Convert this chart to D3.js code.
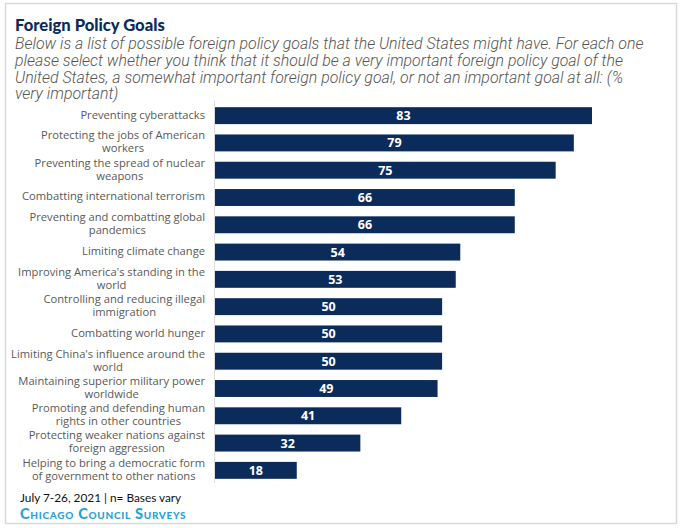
<!DOCTYPE html>
<html><head><meta charset="utf-8">
<script src="https://cdn.jsdelivr.net/npm/d3@7"></script>
<style>
html,body{margin:0;padding:0;background:#fff;}
svg{display:block;}
</style></head>
<body>
<script>
const categories = [
  "Preventing cyberattacks",
  "Protecting the jobs of American workers",
  "Preventing the spread of nuclear weapons",
  "Combatting international terrorism",
  "Preventing and combatting global pandemics",
  "Limiting climate change",
  "Improving America's standing in the world",
  "Controlling and reducing illegal immigration",
  "Combatting world hunger",
  "Limiting China's influence around the world",
  "Maintaining superior military power worldwide",
  "Promoting and defending human rights in other countries",
  "Protecting weaker nations against foreign aggression",
  "Helping to bring a democratic form of government to other nations"
];
const veryImportant = [83, 79, 75, 66, 66, 54, 53, 50, 50, 50, 49, 41, 32, 18];
const titleText = "Foreign Policy Goals";
const subtitleLines = [
  "Below is a list of possible foreign policy goals that the United States might have. For each one",
  "please select whether you think that it should be a very important foreign policy goal of the",
  "United States, a somewhat important foreign policy goal, or not an important goal at all: (%",
  "very important)"
];
const footnote = "July 7-26, 2021 | n= Bases vary";
const sourceText = "Chicago Council Surveys";

const W = 681, H = 528;
const svg = d3.select("body").append("svg").attr("width", W).attr("height", H);
const FONT = "'Open Sans', 'Noto Sans', sans-serif";
const NAVY = "#0b2b5b";

svg.append("rect").attr("x", 5.5).attr("y", 3.5).attr("width", 671).attr("height", 520)
  .attr("fill", "none").attr("stroke", "#d9d9d9").attr("stroke-width", 1.5);

svg.append("text").attr("x", 15).attr("y", 31).text(titleText)
  .attr("font-family", "Lato, 'Open Sans', sans-serif").attr("font-weight", 900)
  .attr("font-size", 16.6).attr("fill", NAVY);

subtitleLines.forEach((l, i) => {
  svg.append("text").attr("x", 15).attr("y", 49 + i * 16.8).text(l)
    .attr("font-family", "Roboto, sans-serif").attr("font-style", "italic")
    .attr("font-weight", 300)
    .attr("font-size", 15.9).attr("fill", "#555555");
});

const x0 = 215;
const x = d3.scaleLinear().domain([0, 83]).range([x0, 592]);
const y = d3.scaleBand().domain(categories).range([102, 484]).paddingInner(0.38).paddingOuter(0.19);

svg.append("line").attr("x1", x0 - 0.5).attr("x2", x0 - 0.5).attr("y1", 100).attr("y2", 483)
  .attr("stroke", "#dddddd").attr("stroke-width", 1);

const g = svg.append("g");
g.selectAll("rect.bar").data(categories).join("rect").attr("class", "bar")
  .attr("x", x(0)).attr("y", d => y(d))
  .attr("width", (d, i) => x(veryImportant[i]) - x(0))
  .attr("height", y.bandwidth()).attr("fill", NAVY);

g.selectAll("text.val").data(categories).join("text").attr("class", "val")
  .attr("x", (d, i) => (x(0) + x(veryImportant[i])) / 2)
  .attr("y", d => y(d) + y.bandwidth() / 2)
  .attr("dy", "0.36em").attr("text-anchor", "middle")
  .attr("font-family", FONT).attr("font-weight", 700).attr("font-size", 12.5)
  .attr("fill", "#fff").text((d, i) => veryImportant[i]);

// labels: wrap, centered block, right edge at 205
const labelRight = 205, maxW = 195, lh = 13, lfs = 11.2;
const measure = svg.append("text").attr("font-family", FONT).attr("font-size", lfs).attr("visibility", "hidden");
function w(s) { measure.text(s); return measure.node().getComputedTextLength(); }
categories.forEach(c => {
  const words = c.split(" ");
  const lines = [];
  let cur = "";
  words.forEach(wd => {
    const t = cur ? cur + " " + wd : wd;
    if (w(t) > maxW && cur) { lines.push(cur); cur = wd; } else cur = t;
  });
  lines.push(cur);
  const mw = d3.max(lines, w);
  const cx = labelRight - mw / 2;
  const cy = y(c) + y.bandwidth() / 2;
  const t = svg.append("text").attr("font-family", FONT).attr("font-size", lfs)
    .attr("fill", "#595959").attr("text-anchor", "middle");
  lines.forEach((l, i) => {
    t.append("tspan").attr("x", cx)
      .attr("y", cy + (i - (lines.length - 1) / 2) * lh - 1)
      .attr("dy", "0.35em").text(l);
  });
});
measure.remove();

svg.append("text").attr("x", 20).attr("y", 502).text(footnote)
  .attr("font-family", "Lato, sans-serif").attr("font-size", 11.8).attr("fill", "#111");
svg.append("text").attr("x", 20).attr("y", 519).text(sourceText)
  .attr("font-family", "Lato, sans-serif").attr("font-weight", 900).attr("font-size", 14.6)
  .attr("letter-spacing", 0.7)
  .attr("font-variant", "small-caps").attr("fill", "#27a3d8");
</script>
</body></html>
